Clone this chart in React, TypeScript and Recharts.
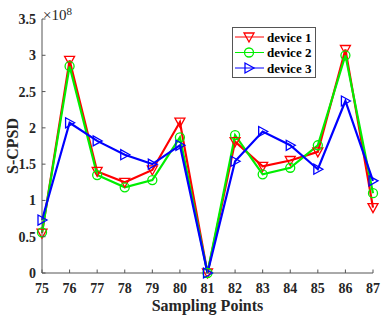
import React from "react";
import { LineChart, Line, XAxis, YAxis } from "recharts";

// sampling points
const points = [75, 76, 77, 78, 79, 80, 81, 82, 83, 84, 85, 86, 87];
// S-CPSD values, in units of 1e8
const device1 = [0.55, 2.93, 1.4, 1.25, 1.42, 2.08, 0, 1.81, 1.47, 1.55, 1.67, 3.08, 0.9];
const device2 = [0.56, 2.85, 1.35, 1.18, 1.28, 1.87, 0, 1.9, 1.36, 1.45, 1.76, 3.0, 1.1];
const device3 = [0.73, 2.07, 1.82, 1.63, 1.5, 1.76, 0, 1.54, 1.95, 1.76, 1.43, 2.37, 1.27];

const xTicks = points;
const yTicks = [0, 0.5, 1, 1.5, 2, 2.5, 3, 3.5];

const data = points.map((p, i) => ({
  x: p,
  d1: device1[i],
  d2: device2[i],
  d3: device3[i],
}));

const FONT = "'Liberation Serif', 'Times New Roman', serif";
const AXIS = "#555";
const TEXT = "#262626";

const TriDown = ({ cx, cy, color }: any) => (
  <polygon
    points={`${cx - 5},${cy - 4} ${cx + 5},${cy - 4} ${cx},${cy + 5}`}
    fill="none"
    stroke={color}
    strokeWidth={1.3}
  />
);
const Circ = ({ cx, cy, color }: any) => (
  <circle cx={cx} cy={cy} r={4.5} fill="none" stroke={color} strokeWidth={1.3} />
);
const TriRight = ({ cx, cy, color }: any) => (
  <polygon
    points={`${cx - 4},${cy - 5} ${cx - 4},${cy + 5} ${cx + 5},${cy}`}
    fill="none"
    stroke={color}
    strokeWidth={1.3}
  />
);

const series = [
  { key: "d1", name: "device 1", color: "#ff0000", Marker: TriDown },
  { key: "d2", name: "device 2", color: "#00ee00", Marker: Circ },
  { key: "d3", name: "device 3", color: "#0000ff", Marker: TriRight },
];

const BottomTick = ({ x, y, payload }: any) => (
  <g>
    <line x1={x} x2={x} y1={y} y2={y - 3.5} stroke={AXIS} />
    <text
      x={x}
      y={y + 20}
      textAnchor="middle"
      fontFamily={FONT}
      fontWeight="bold"
      fontSize={14}
      fill={TEXT}
    >
      {payload.value}
    </text>
  </g>
);
const TopTick = ({ x, y }: any) => (
  <line x1={x} x2={x} y1={y} y2={y + 3.5} stroke={AXIS} />
);
const LeftTick = ({ x, y, payload }: any) => (
  <g>
    <line x1={x} x2={x + 3.5} y1={y} y2={y} stroke={AXIS} />
    <text
      x={x - 6}
      y={y + 5}
      textAnchor="end"
      fontFamily={FONT}
      fontWeight="bold"
      fontSize={14}
      fill={TEXT}
    >
      {payload.value}
    </text>
  </g>
);
const RightTick = ({ x, y }: any) => (
  <line x1={x} x2={x - 3.5} y1={y} y2={y} stroke={AXIS} />
);

const LegendBox = () => (
  <svg width={84} height={51} style={{ display: "block" }}>
    <rect x={0.5} y={0.5} width={83} height={50} fill="#fff" stroke={AXIS} />
    {series.map((s, i) => {
      const cy = 10 + i * 15.5;
      const M = s.Marker;
      return (
        <g key={s.key}>
          <line x1={3} x2={32} y1={cy} y2={cy} stroke={s.color} strokeWidth={1} />
          <M cx={17} cy={cy} color={s.color} />
          <text
            x={35}
            y={cy + 4.5}
            fontFamily={FONT}
            fontWeight="bold"
            fontSize={13}
            fill="#000"
          >
            {s.name}
          </text>
        </g>
      );
    })}
  </svg>
);

export default function App() {
  return (
    <div style={{ position: "absolute", left: 0, top: 0, width: 382, height: 315, background: "#fff" }}>
      <LineChart
        width={382}
        height={315}
        data={data}
        margin={{ top: 19, right: 9, left: 0, bottom: 0 }}
      >
        <XAxis
          dataKey="x"
          type="number"
          domain={[75, 87]}
          ticks={xTicks}
          interval={0}
          height={42}
          tickSize={0}
          tickMargin={0}
          tick={<BottomTick />}
          stroke={AXIS}
          label={{
            value: "Sampling Points",
            position: "insideBottom",
            offset: 4,
            fontFamily: FONT,
            fontWeight: "bold",
            fontSize: 16,
            fill: TEXT,
          }}
        />
        <XAxis
          xAxisId="top"
          orientation="top"
          dataKey="x"
          type="number"
          domain={[75, 87]}
          ticks={xTicks}
          interval={0}
          height={0}
          tickSize={0}
          tickMargin={0}
          tick={<TopTick />}
          stroke={AXIS}
        />
        <YAxis
          type="number"
          domain={[0, 3.5]}
          ticks={yTicks}
          interval={0}
          width={42}
          tickSize={0}
          tickMargin={0}
          tick={<LeftTick />}
          stroke={AXIS}
          label={{
            value: "S-CPSD",
            angle: -90,
            position: "insideLeft",
            offset: 12,
            fontFamily: FONT,
            fontWeight: "bold",
            fontSize: 16,
            fill: TEXT,
            style: { textAnchor: "middle" },
          }}
        />
        <YAxis
          yAxisId="right"
          orientation="right"
          type="number"
          domain={[0, 3.5]}
          ticks={yTicks}
          interval={0}
          width={0}
          tickSize={0}
          tickMargin={0}
          tick={<RightTick />}
          stroke={AXIS}
        />
        {series.map((s) => {
          const M = s.Marker;
          return (
            <Line
              key={s.key}
              dataKey={s.key}
              name={s.name}
              stroke={s.color}
              strokeWidth={2.2}
              isAnimationActive={false}
              dot={(p: any) => <M key={`${s.key}-${p.index}`} cx={p.cx} cy={p.cy} color={s.color} />}
              activeDot={false}
            />
          );
        })}
      </LineChart>
      <div style={{ position: "absolute", left: 232, top: 27 }}>
        <LegendBox />
      </div>
      <div
        style={{
          position: "absolute",
          left: 43,
          top: 0,
          fontFamily: FONT,
          fontSize: 15,
          color: TEXT,
          lineHeight: "20px",
        }}
      >
        ×10<sup style={{ fontSize: 11, position: "relative", top: 1 }}>8</sup>
      </div>
    </div>
  );
}
